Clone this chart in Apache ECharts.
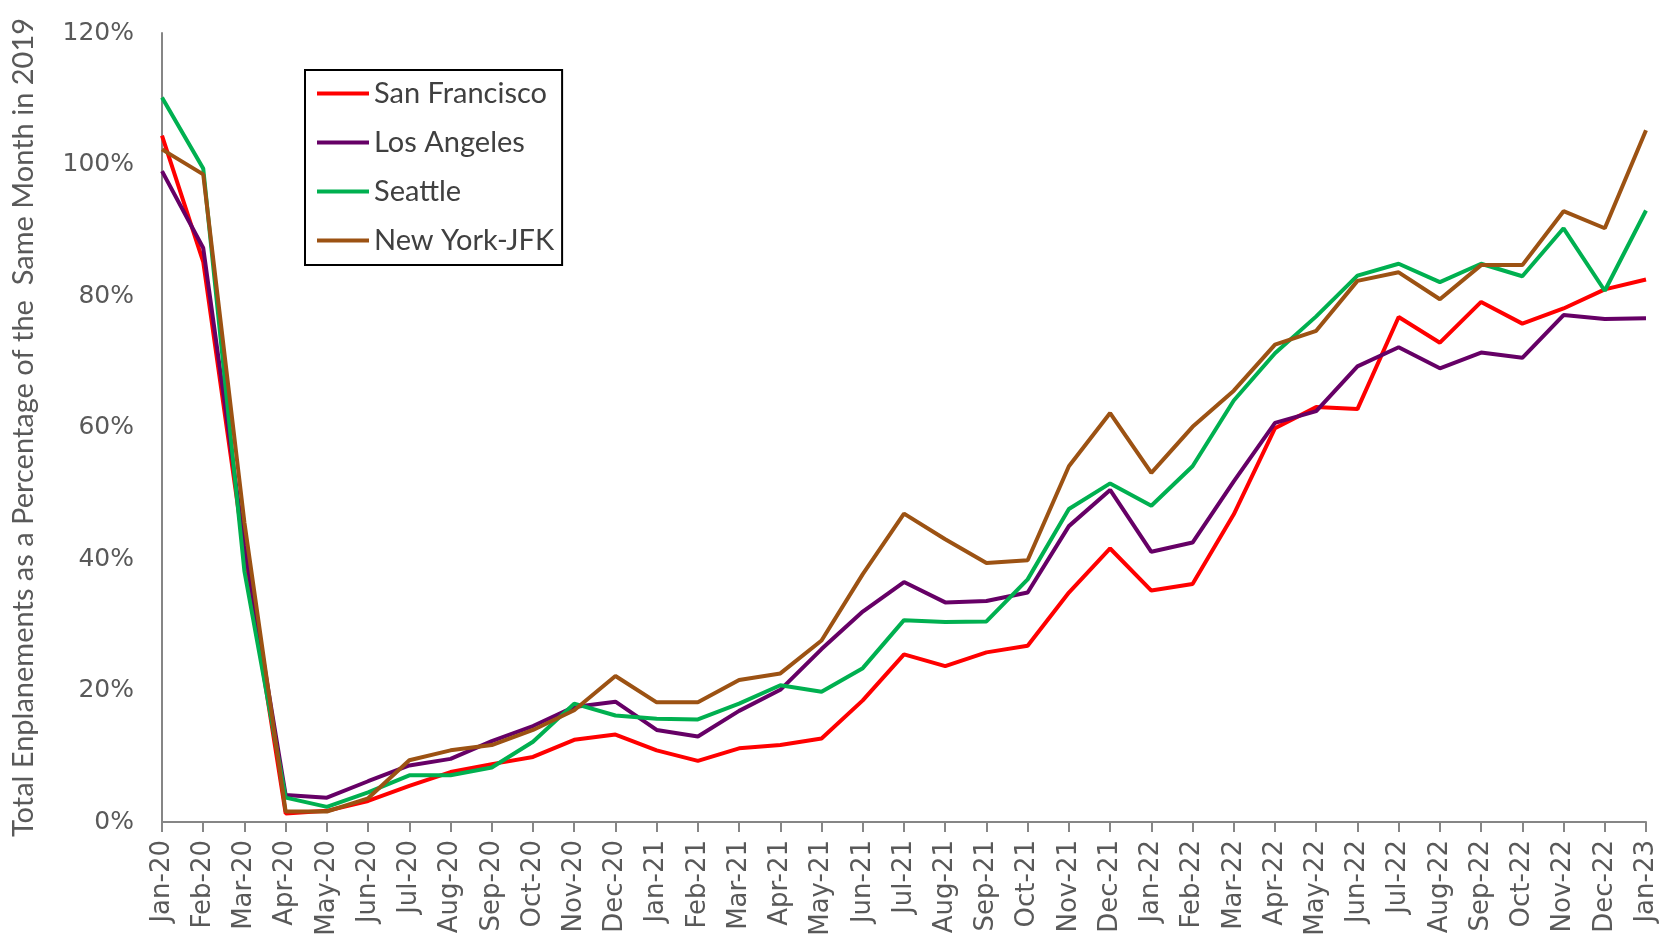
<!DOCTYPE html>
<html>
<head>
<meta charset="utf-8">
<script src="https://cdn.jsdelivr.net/npm/echarts@6/dist/echarts.min.js"></script>
<style>html,body{margin:0;padding:0;background:#fff}#c{width:1671px;height:942px}</style>
</head>
<body>
<div id="c"></div>
<script>
const months = ["Jan-20","Feb-20","Mar-20","Apr-20","May-20","Jun-20","Jul-20","Aug-20","Sep-20","Oct-20","Nov-20","Dec-20",
"Jan-21","Feb-21","Mar-21","Apr-21","May-21","Jun-21","Jul-21","Aug-21","Sep-21","Oct-21","Nov-21","Dec-21",
"Jan-22","Feb-22","Mar-22","Apr-22","May-22","Jun-22","Jul-22","Aug-22","Sep-22","Oct-22","Nov-22","Dec-22","Jan-23"];
const sanFrancisco = [104.4,85.2,41,1.3,1.7,3.2,5.5,7.6,8.8,9.9,12.5,13.3,10.9,9.3,11.2,11.7,12.7,18.5,25.5,23.7,25.8,26.8,34.9,41.6,35.2,36.2,46.8,59.9,63.1,62.8,76.8,72.9,79.1,75.8,78.1,81.0,82.5];
const losAngeles = [99.0,87.3,42,4.1,3.7,6.2,8.6,9.6,12.3,14.6,17.5,18.3,14.0,13.0,16.9,20.1,26.3,32.0,36.5,33.4,33.6,34.9,45.0,50.5,41.1,42.5,51.8,60.7,62.5,69.3,72.2,69.0,71.4,70.6,77.1,76.5,76.6];
const seattle = [110.2,99.4,38.1,3.7,2.3,4.5,7.1,7.1,8.3,12.2,18.0,16.2,15.7,15.6,18.0,20.8,19.8,23.4,30.7,30.4,30.5,36.9,47.6,51.5,48.1,54.1,64.1,71.3,76.9,83.1,84.9,82.1,84.9,83.0,90.3,80.8,93.0];
const newYorkJFK = [102.3,98.5,45.5,1.6,1.6,3.6,9.4,10.9,11.7,14.0,17.0,22.2,18.2,18.2,21.6,22.6,27.6,37.7,46.9,43.0,39.4,39.8,54.1,62.2,53.1,60.1,65.6,72.6,74.7,82.3,83.6,79.5,84.7,84.7,92.9,90.3,105.2];
const yTicks = [0,20,40,60,80,100,120];
const seriesNames = ["San Francisco","Los Angeles","Seattle","New York-JFK"];
const colors = ["#FF0000","#660066","#00B050","#9C5213"];
const seriesData = [sanFrancisco, losAngeles, seattle, newYorkJFK];

const chart = echarts.init(document.getElementById('c'), null, {renderer:'canvas'});
chart.setOption({
  animation:false,
  backgroundColor:'#ffffff',
  grid:{left:162, right:25, top:33, bottom:120, containLabel:false},
  legend:{
    orient:'vertical', left:305, top:70,
    data:seriesNames,
    icon:'rect', itemWidth:52, itemHeight:4, itemGap:18,
    borderColor:'#000', borderWidth:2, padding:[8,8,9,12],
    textStyle:{fontFamily:'Lato', fontSize:29, color:'#404040', lineHeight:31}
  },
  xAxis:{
    type:'category', data:months, boundaryGap:false,
    axisLine:{lineStyle:{color:'#868686', width:2}},
    axisTick:{show:true, alignWithLabel:true, length:10, lineStyle:{color:'#868686', width:2}},
    axisLabel:{rotate:90, interval:0, fontFamily:'DejaVu Sans', fontSize:26, color:'#595959', margin:18}
  },
  yAxis:{
    type:'value', min:0, max:120, interval:20,
    name:'Total Enplanements as a Percentage of the  Same Month in 2019',
    nameLocation:'middle', nameGap:124, nameRotate:90,
    nameTextStyle:{fontFamily:'Lato', fontSize:29, color:'#595959'},
    axisLine:{show:true, lineStyle:{color:'#868686', width:2}},
    axisTick:{show:false},
    splitLine:{show:false},
    axisLabel:{formatter: v => yTicks.includes(v) ? v + '%' : '', fontFamily:'DejaVu Sans', fontSize:25, color:'#595959', margin:28}
  },
  series: seriesNames.map((n,i)=>({
    name:n, type:'line', data:seriesData[i], symbol:'none',
    lineStyle:{color:colors[i], width:4}, itemStyle:{color:colors[i]}
  }))
});
</script>
</body>
</html>
